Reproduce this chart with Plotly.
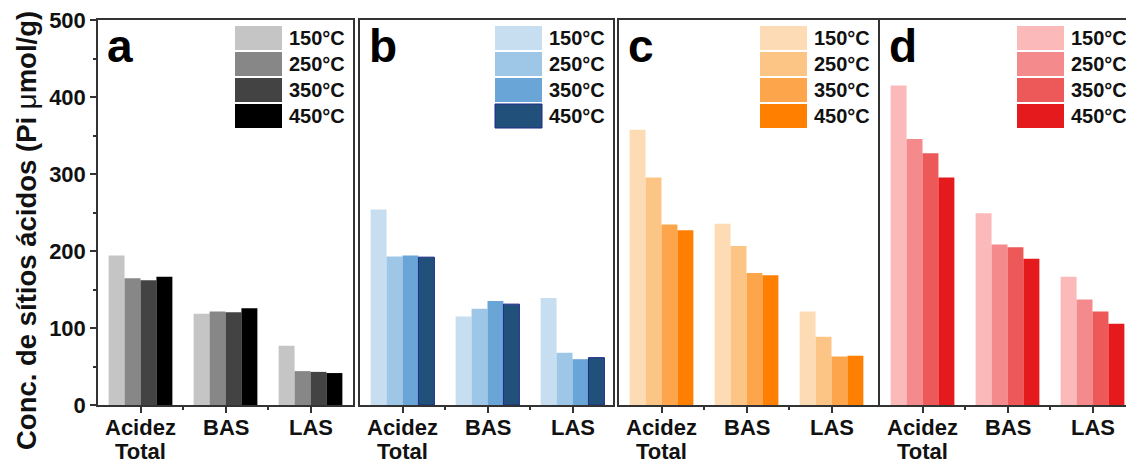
import plotly.graph_objects as go

# ---------------- data ----------------
categories = ["Acidez<br>Total", "BAS", "LAS"]
temps = ["150°C", "250°C", "350°C", "450°C"]
panel_labels = ["a", "b", "c", "d"]

# values per temperature (rows) for each category (columns)
a_values = [[194, 118.5, 77], [164.5, 121.5, 44], [162, 120.5, 43], [166.5, 125.5, 41.5]]
b_values = [[254, 115, 139], [193, 125, 68], [194, 135, 59.5], [192, 131, 61.5]]
c_values = [[357.5, 235.5, 121.5], [295.5, 206.5, 88.5], [234.5, 171.5, 63], [227, 168.5, 64]]
d_values = [[415, 249, 166.5], [345.5, 208.5, 137], [327, 205, 121.5], [295.5, 190, 105.5]]

y_ticks = [0, 100, 200, 300, 400, 500]
y_title = "<b>Conc. de sítios ácidos (Pi </b>μ<b>mol/g)</b>"

# ---------------- styles ----------------
gray = ["#c5c5c5", "#878787", "#434343", "#000000"]
blue = ["#c7ddf0", "#9ec7e7", "#69a5d6", "#21507b"]
orange = ["#fddcb5", "#fdc585", "#fca54a", "#ff7f00"]
red = ["#fcb9ba", "#f48a8b", "#ed5959", "#e41a1c"]
palettes = [gray, blue, orange, red]
all_values = [a_values, b_values, c_values, d_values]

W, H = 1126, 461
ML, MR, MT, MB = 98, 0, 20, 56
PW, PH = W - ML - MR, H - MT - MB
UNIT = 85.0  # px per category

# panel pixel extents (left, right)
panels_px = [(98, 353), (360, 613), (619, 878), (880, 1126)]
panel_right_full = [353, 613, 878, 1135]

FONT = "Liberation Sans, Arial, sans-serif"
LINE = "#333333"
TXT = "#111111"


def px2x(px):
    return (px - ML) / PW


def px2y(py):
    return (MT + PH - py) / PH


fig = go.Figure()
xpos = list(range(len(categories)))

for p, (vals, pal) in enumerate(zip(all_values, palettes)):
    ax = "" if p == 0 else str(p + 1)
    for t, temp in enumerate(temps):
        line = dict(width=0)
        if p == 1 and t == 3:
            line = dict(width=1, color="#1d2a8a")
        fig.add_trace(go.Bar(
            x=xpos, y=vals[t], name=temp, marker=dict(color=pal[t], line=line),
            xaxis="x" + ax, yaxis="y" + ax, offsetgroup=str(t), showlegend=False,
        ))

shapes, annotations = [], []

for p, (l, r) in enumerate(panels_px):
    ax = "" if p == 0 else str(p + 1)
    width_px = r - l
    xa = dict(
        domain=[px2x(l), px2x(r)], range=[-0.5, -0.5 + width_px / UNIT],
        tickvals=xpos, showticklabels=False, ticks="outside", ticklen=6, tickwidth=1.5,
        tickcolor=LINE, showline=True, mirror=True, linecolor=LINE, linewidth=1.5,
        showgrid=False, zeroline=False, anchor="y" + ax,
        minor=dict(tickvals=[0.5, 1.5], ticks="outside", ticklen=3, tickcolor=LINE, tickwidth=1.5),
    )
    ya = dict(
        domain=[0, 1], range=[0, 500], showline=True, mirror=(p != 3), linecolor=LINE,
        linewidth=1.5, showgrid=False, zeroline=False, anchor="x" + ax,
    )
    if p == 0:
        ya.update(tickvals=y_ticks, ticktext=["<b>%d</b>" % v for v in y_ticks],
                  ticks="outside", ticklen=6, tickwidth=1.5, tickcolor=LINE,
                  tickfont=dict(family=FONT, size=22, color=TXT),
                  minor=dict(tickvals=[50, 150, 250, 350, 450], ticks="outside", ticklen=3,
                             tickcolor=LINE, tickwidth=1.5))
    else:
        ya.update(ticks="", showticklabels=False)
    fig.layout["xaxis" + ax] = xa
    fig.layout["yaxis" + ax] = ya

    # category labels (one text per line, tight line spacing as in the reference)
    for i, cat in enumerate(categories):
        for k, part in enumerate(cat.split("<br>")):
            annotations.append(dict(
                text="<b>" + part + "</b>", x=xpos[i], xref="x" + ax, y=px2y(427 + 24 * k),
                yref="paper", xanchor="center", yanchor="middle", showarrow=False,
                font=dict(family=FONT, size=22, color=TXT),
            ))

# y-axis title (placed like the reference, slightly below the axis centre)
annotations.append(dict(
    text=y_title, x=px2x(26), y=px2y(231), xref="paper", yref="paper", textangle=-90,
    xanchor="center", yanchor="middle", showarrow=False,
    font=dict(family=FONT, size=27.5, color=TXT),
))

for p in range(4):
    R = panel_right_full[p]
    l = panels_px[p][0]
    annotations.append(dict(
        text="<b>" + panel_labels[p] + "</b>", x=px2x(l + 7), y=px2y(18), xref="paper", yref="paper",
        xanchor="left", yanchor="top", showarrow=False, font=dict(family=FONT, size=46, color="#000"),
    ))
    for t, temp in enumerate(temps):
        y0 = 26 + 26 * t
        y1 = y0 + 24
        shapes.append(dict(
            type="rect", xref="paper", yref="paper",
            x0=px2x(R - 118), x1=px2x(R - 71), y0=px2y(y1), y1=px2y(y0),
            fillcolor=palettes[p][t],
            line=dict(width=1, color="#1d2a8a") if (p == 1 and t == 3) else dict(width=0),
        ))
        annotations.append(dict(
            text="<b>" + temp + "</b>", x=px2x(R - 66), y=px2y((y0 + y1) / 2), xref="paper", yref="paper",
            xanchor="left", yanchor="middle", showarrow=False,
            font=dict(family=FONT, size=20, color=TXT),
        ))

fig.update_layout(
    width=W, height=H, margin=dict(l=ML, r=MR, t=MT, b=MB),
    barmode="group", bargap=0.25, bargroupgap=0,
    plot_bgcolor="white", paper_bgcolor="white",
    shapes=shapes, annotations=annotations, showlegend=False,
)

fig.write_html(
    "out.html",
    config={"displayModeBar": False},
    post_script="document.body.style.margin='0';document.body.style.overflow='hidden';",
)
